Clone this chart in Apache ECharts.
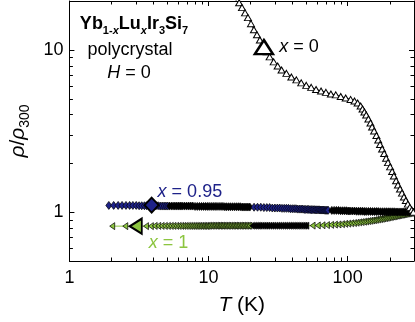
<!DOCTYPE html>
<html>
<head>
<meta charset="utf-8">
<script src="https://cdn.jsdelivr.net/npm/echarts@6/dist/echarts.min.js"></script>
<style>
  html, body { margin: 0; padding: 0; background: #fff; }
  #chart { width: 415px; height: 322px; }
</style>
</head>
<body>
<div id="chart"></div>
<script>
// T (K) vs rho/rho300

// x = 0, open triangles
const x0 = [[15.5,20.4],[16.6,19.5],[17.4,18.2],[18.3,16.9],[19.2,15.8],[20.2,14.5],[21.2,13.3],[22.3,12.4],[23.4,11.5],[25.0,10.4],
  [26.2,9.72],[27.5,9.05],[29.4,8.43],[31.4,7.96],[33.5,7.52],[36.3,7.16],[39.4,6.81],[42.8,6.53],[46.4,6.26],[50.4,6.04],
  [54.7,5.87],[59.3,5.70],[64.4,5.58],[69.8,5.47],[75.8,5.35],[82.2,5.28],[89.2,5.16],[96.8,5.05],[105,4.95],[112,4.84],
  [118,4.71],[124,4.51],[128,4.32],[132,4.14],[136,3.97],[141,3.75],[146,3.54],[150,3.35],[155,3.16],[161,2.97],
  [166,2.78],[171,2.61],[177,2.45],[183,2.30],[189,2.15],[195,2.02],[202,1.90],[209,1.78],[215,1.67],[223,1.56],
  [230,1.47],[238,1.39],[246,1.31],[254,1.24],[262,1.18],[271,1.12],[280,1.07],[289,1.03],[297,1.0]];

// x = 0.95, diamonds (runs where the points pile up into black are kept apart)
const x095Low = [[1.92,1.10],[2.08,1.10],[2.24,1.10],[2.39,1.10],[2.55,1.10],[2.71,1.10],[2.86,1.10],[3.02,1.10],
  [3.17,1.095],[3.31,1.095],[3.46,1.095],[3.59,1.095],[3.74,1.095],[3.89,1.095],[4.04,1.095],[4.19,1.095],[4.34,1.095],
  [4.49,1.09],[4.64,1.09],[4.79,1.09],[4.94,1.09],[5.09,1.09]];
const x095Pile1 = [[5.25,1.09],[5.45,1.09],[5.65,1.09],[5.85,1.09],[6.05,1.09],[6.25,1.09],[6.45,1.09],[6.7,1.09],[6.95,1.09],
  [7.2,1.09],[7.45,1.09],[7.7,1.09],[8.0,1.085],[8.3,1.085],[8.6,1.085],[8.9,1.085],[9.2,1.085],[9.5,1.085],[9.8,1.085],
  [10.1,1.085],[10.45,1.085],[10.8,1.085],[11.15,1.085],[11.5,1.085],[11.9,1.085],[12.3,1.085],[12.7,1.085],[13.1,1.08],
  [13.5,1.08],[13.95,1.08],[14.4,1.08],[14.9,1.08],[15.4,1.08],[15.9,1.08],[16.4,1.08],[16.9,1.08],[17.45,1.075],
  [18.0,1.075],[18.6,1.075],[19.2,1.075],[19.8,1.075]];
const x095Mid = [[21.25,1.072],[22.5,1.072],[23.75,1.072],[25,1.067],[26.25,1.067],[27.5,1.067],[28.75,1.06],[30,1.06],
  [31.25,1.06],[32.5,1.06],[33.75,1.055],[35,1.055],[36.25,1.055],[37.5,1.055],[38.75,1.05],[40,1.05],[41.25,1.05],
  [42.5,1.05],[43.75,1.044],[45,1.044],[46.25,1.044],[47.5,1.044],[48.75,1.04],[50,1.04],[51.25,1.04],[52.5,1.04],
  [53.75,1.036],[55,1.036],[56.25,1.036],[57.5,1.036],[58.75,1.033],[60,1.033],[61.25,1.033],[62.5,1.033],[63.75,1.03],
  [65,1.03],[66.25,1.03],[67.5,1.03],[68.75,1.027],[70,1.027],[71.25,1.027],[72.5,1.027]];
const x095Pile2 = [[77,1.025],[80,1.025],[83,1.025],[86,1.025],[89,1.02],[92,1.02],[95,1.02],[98,1.02],[101,1.016],
  [104,1.016],[108,1.016],[112,1.016],[116,1.013],[120,1.013],[124,1.013],[128,1.013],[132,1.01],[136,1.01],[141,1.01],
  [146,1.01],[151,1.008],[156,1.008],[161,1.008],[166,1.008],[172,1.006],[178,1.006],[184,1.006],[190,1.006],[196,1.005],
  [202,1.005],[209,1.005],[216,1.005],[223,1.003],[230,1.003],[238,1.003],[246,1.003],[254,1.002],[262,1.002],[271,1.002],
  [280,1.0],[289,1.0],[298,1.0]];

// x = 1, left triangles
const x1Low = [[2.03,0.82],[2.52,0.82],[3.05,0.82],[3.55,0.82],[3.85,0.82],[4.1,0.823],[4.35,0.823],[4.6,0.823],[4.85,0.823],
  [5.1,0.823],[5.35,0.823],[5.6,0.823],[5.85,0.823],[6.1,0.823],[6.35,0.823],[6.6,0.823],[6.85,0.823],[7.1,0.823],[7.35,0.823],
  [7.6,0.823],[7.85,0.823],[8.1,0.823],[8.35,0.823],[8.6,0.823],[8.85,0.823],[9.1,0.823],[9.35,0.823],[9.6,0.823],[9.85,0.823],
  [10.1,0.825],[10.4,0.825],[10.7,0.825],[11.0,0.825],[11.3,0.825],[11.6,0.825],[11.9,0.825],[12.2,0.825],[12.5,0.825],
  [12.85,0.825],[13.2,0.825],[13.55,0.825],[13.9,0.825],[14.3,0.825],[14.7,0.825],[15.1,0.825],[15.5,0.825],[15.9,0.825],
  [16.35,0.825],[16.8,0.825],[17.25,0.825],[17.7,0.825],[18.2,0.825],[18.7,0.825],[19.2,0.825],[19.7,0.825]];
const x1Pile = [[20.5,0.825],[21.2,0.825],[21.9,0.825],[22.6,0.825],[23.3,0.825],[24.1,0.825],[24.9,0.825],[25.7,0.825],
  [26.5,0.825],[27.4,0.825],[28.3,0.825],[29.2,0.825],[30.2,0.825],[31.2,0.825],[32.2,0.825],[33.3,0.825],[34.4,0.825],
  [35.5,0.825],[36.7,0.825],[37.9,0.825],[39.1,0.825],[40.4,0.825],[41.7,0.825],[43.1,0.825],[44.5,0.825],[46,0.825],
  [47.5,0.825],[49,0.825],[50.5,0.825]];
const x1High = [[56,0.826],[61,0.828],[66,0.83],[71,0.832],[76,0.835],[81,0.838],[86,0.84],[91,0.843],[96,0.847],[101,0.85],
  [106,0.854],[111,0.857],[116,0.861],[121,0.865],[126,0.869],[131,0.873],[136,0.877],[141,0.881],[146,0.885],[151,0.889],
  [156,0.893],[161,0.898],[166,0.902],[171,0.906],[176,0.91],[181,0.915],[186,0.919],[191,0.923],[196,0.928],[201,0.932],
  [206,0.936],[211,0.94],[216,0.944],[221,0.948],[226,0.952],[231,0.956],[236,0.959],[241,0.963],[246,0.966],[251,0.97],
  [256,0.973],[261,0.976],[266,0.979],[271,0.983],[276,0.986],[281,0.99],[286,0.993],[291,0.996],[296,0.999]];

// big marker of each curve (label marks)
const mark0 = [[25.0, 10.4]];
const mark095 = [[3.9, 1.105]];
const mark1 = [[3.0, 0.82]];

// log minor ticks
const minorT = [2,3,4,5,6,7,8,9,20,30,40,50,60,70,80,90,200];
const minorR = [0.6,0.7,0.8,0.9,2,3,4,5,6,7,8,9];

const NAVY = '#1e2289';
const GREEN = '#8cc540';
const FONT = 'Liberation Sans';

function points(run, piled) {
  // piled up runs look solid black in the original
  return run.map(p => piled ? { value: p, itemStyle: { color: '#000' } } : p);
}

function minorTickX(params, api) {
  const cs = params.coordSys;
  const px = Math.round(api.coord([api.value(0), 1])[0]) + 0.5;
  const b = cs.y + cs.height;
  return { type: 'group', children: [
    { type: 'line', shape: { x1: px, y1: b, x2: px, y2: b - 3.5 }, style: { stroke: '#000', lineWidth: 1 } },
    { type: 'line', shape: { x1: px, y1: cs.y, x2: px, y2: cs.y + 3.5 }, style: { stroke: '#000', lineWidth: 1 } }
  ]};
}

function minorTickY(params, api) {
  const cs = params.coordSys;
  const py = Math.round(api.coord([1, api.value(1)])[1]) + 0.5;
  const r = cs.x + cs.width;
  return { type: 'group', children: [
    { type: 'line', shape: { x1: cs.x, y1: py, x2: cs.x + 3.5, y2: py }, style: { stroke: '#000', lineWidth: 1 } },
    { type: 'line', shape: { x1: r, y1: py, x2: r - 3.5, y2: py }, style: { stroke: '#000', lineWidth: 1 } }
  ]};
}

const chart = echarts.init(document.getElementById('chart'));

const axisBase = {
  type: 'log',
  logBase: 10,
  axisLine: { show: true, onZero: false, lineStyle: { color: '#000', width: 1 } },
  axisTick: { show: true, inside: true, length: 5, lineStyle: { color: '#000' } },
  splitLine: { show: false }
};

function markLabel(text, color, extra) {
  return Object.assign({
    show: true, position: 'right', formatter: text,
    fontSize: 18, color: color, fontFamily: FONT,
    rich: { i: { fontSize: 18, fontStyle: 'italic', color: color, fontFamily: FONT } }
  }, extra);
}

chart.setOption({
  animation: false,
  textStyle: { fontFamily: FONT },
  grid: { left: 65, right: 1, top: 1, bottom: 61 },
  xAxis: [
    Object.assign({}, axisBase, {
      min: 1, max: 300, position: 'bottom',
      axisLabel: { fontSize: 18, color: '#000', margin: 8, showMaxLabel: false, fontFamily: FONT },
      name: '{i|T} (K)',
      nameLocation: 'middle',
      nameGap: 34,
      nameTextStyle: { fontSize: 21, color: '#000', fontFamily: FONT,
        rich: { i: { fontSize: 21, fontStyle: 'italic', fontFamily: FONT } } }
    }),
    Object.assign({}, axisBase, {
      min: 1, max: 300, position: 'top', axisLabel: { show: false }
    })
  ],
  yAxis: [
    Object.assign({}, axisBase, {
      min: 0.5, max: 20, position: 'left',
      axisLabel: { fontSize: 18, color: '#000', margin: 6, showMinLabel: false, showMaxLabel: false, fontFamily: FONT },
      name: '{i|ρ}/{i|ρ}{s|300}',
      nameLocation: 'middle',
      nameRotate: 90,
      nameGap: 34,
      nameTextStyle: { fontSize: 21, color: '#000', fontFamily: FONT,
        rich: {
          i: { fontSize: 21, fontStyle: 'italic', fontFamily: FONT, lineHeight: 28 },
          s: { fontSize: 14, fontFamily: FONT, verticalAlign: 'bottom', lineHeight: 14 }
        } }
    }),
    Object.assign({}, axisBase, {
      min: 0.5, max: 20, position: 'right', axisLabel: { show: false }
    })
  ],
  graphic: [{
    type: 'text',
    x: 134, y: 12,
    style: {
      text: '{b|Yb}{s|1-}{si|x}{b|Lu}{si|x}{b|Ir}{s|3}{b|Si}{s|7}',
      align: 'center',
      rich: {
        b: { fontSize: 18, fontWeight: 'bold', fontFamily: FONT, lineHeight: 24, fill: '#000' },
        s: { fontSize: 11, fontWeight: 'bold', fontFamily: FONT, verticalAlign: 'bottom', lineHeight: 11, fill: '#000' },
        si: { fontSize: 11, fontWeight: 'bold', fontStyle: 'italic', fontFamily: FONT, verticalAlign: 'bottom', lineHeight: 11, fill: '#000' }
      }
    }
  }, {
    type: 'text',
    x: 130, y: 41,
    style: { text: 'polycrystal', align: 'center', font: '18px "Liberation Sans"', fill: '#000' }
  }, {
    type: 'text',
    x: 129, y: 64,
    style: {
      text: '{i|H} = 0', align: 'center',
      rich: { i: { fontSize: 18, fontStyle: 'italic', fontFamily: FONT, fill: '#000' } },
      font: '18px "Liberation Sans"', fill: '#000'
    }
  }],
  series: [
    {
      type: 'custom', xAxisIndex: 0, yAxisIndex: 0, renderItem: minorTickX, silent: true, clip: false,
      data: minorT.map(t => [t, 1]), z: 10
    },
    {
      type: 'custom', xAxisIndex: 0, yAxisIndex: 0, renderItem: minorTickY, silent: true, clip: false,
      data: minorR.map(r => [1, r]), z: 10
    },
    {
      name: 'x = 1', type: 'line', xAxisIndex: 0, yAxisIndex: 0,
      data: [].concat(points(x1Low, false), points(x1Pile, true), points(x1High, false)),
      symbol: 'triangle', symbolRotate: 90, symbolSize: [7, 5], showAllSymbol: true,
      itemStyle: { color: GREEN, borderColor: '#000', borderWidth: 0.7 },
      lineStyle: { color: GREEN, width: 1 }, z: 2
    },
    {
      name: 'x = 0.95', type: 'line', xAxisIndex: 0, yAxisIndex: 0,
      data: [].concat(points(x095Low, false), points(x095Pile1, true), points(x095Mid, false), points(x095Pile2, true)),
      symbol: 'diamond', symbolSize: [6, 8], showAllSymbol: true,
      itemStyle: { color: NAVY, borderColor: '#000', borderWidth: 0.7 },
      lineStyle: { color: NAVY, width: 1 }, z: 3
    },
    {
      name: 'x = 0', type: 'line', xAxisIndex: 0, yAxisIndex: 0,
      data: x0,
      symbol: 'triangle', symbolSize: [7, 6], showAllSymbol: true,
      itemStyle: { color: '#fff', borderColor: '#000', borderWidth: 1 },
      lineStyle: { color: '#000', width: 1 }, z: 4
    },
    {
      type: 'scatter', data: mark1, symbol: 'triangle', symbolRotate: 90, symbolSize: [15, 12],
      itemStyle: { color: GREEN, borderColor: '#000', borderWidth: 2, opacity: 1 }, z: 5,
      label: markLabel('{i|x} = 1', GREEN, { distance: 6, offset: [0, 17] })
    },
    {
      type: 'scatter', data: mark095, symbol: 'diamond', symbolSize: [14, 15],
      itemStyle: { color: NAVY, borderColor: '#000', borderWidth: 2, opacity: 1 }, z: 5,
      label: markLabel('{i|x} = 0.95', NAVY, { distance: 0, offset: [-2, -13] })
    },
    {
      type: 'scatter', data: mark0, symbol: 'triangle', symbolSize: [18, 14],
      itemStyle: { color: '#fff', borderColor: '#000', borderWidth: 2.5, opacity: 1 }, z: 5,
      label: markLabel('{i|x} = 0', '#000', { distance: 5 })
    }
  ]
});
</script>
</body>
</html>
